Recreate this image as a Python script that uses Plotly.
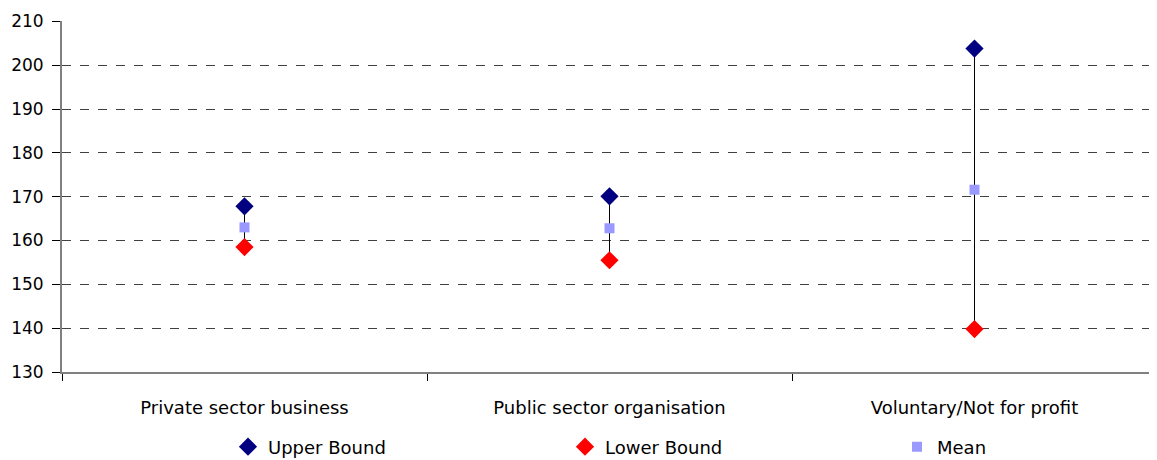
import plotly.graph_objects as go

categories = ["Private sector business", "Public sector organisation", "Voluntary/Not for profit"]
upper_bound = [167.8, 170.1, 203.8]
lower_bound = [158.5, 155.5, 139.8]
mean = [163.0, 162.8, 171.6]

# high-low connector lines, built from the bound arrays
line_x, line_y = [], []
for c, hi, lo in zip(categories, upper_bound, lower_bound):
    line_x += [c, c, None]
    line_y += [hi, lo, None]

fig = go.Figure()
fig.add_trace(go.Scatter(x=line_x, y=line_y, mode="lines", line=dict(color="black", width=1),
                         showlegend=False, hoverinfo="skip"))
fig.add_trace(go.Scatter(x=categories, y=upper_bound, mode="markers", name="Upper Bound",
                         marker=dict(symbol="diamond", size=14, color="#000080"), legend="legend"))
fig.add_trace(go.Scatter(x=categories, y=lower_bound, mode="markers", name="Lower Bound",
                         marker=dict(symbol="diamond", size=14, color="#FF0000"), legend="legend2"))
fig.add_trace(go.Scatter(x=categories, y=mean, mode="markers", name="Mean",
                         marker=dict(symbol="square", size=10, color="#9999FF"), legend="legend3"))

fig.update_xaxes(type="category", range=[-0.5, 2.5], tickson="boundaries", ticks="outside",
                 ticklen=7, tickcolor="black", showline=True, linecolor="#808080", linewidth=2,
                 showgrid=False, automargin=False, ticklabelstandoff=18,
                 tickfont=dict(size=18, color="black"))
fig.update_yaxes(range=[130, 210.1], dtick=10, ticks="outside", ticklen=8, tickcolor="black",
                 showline=True, linecolor="#808080", linewidth=2,
                 showgrid=True, gridcolor="#404040", griddash="dash", gridwidth=1,
                 zeroline=False, automargin=False, ticklabelstandoff=5,
                 tickfont=dict(size=17, color="black"))

# page body has an 8px margin, so the figure is shrunk/shifted to fill the window
W, H = 1149, 452
leg = dict(orientation="h", xref="container", yref="container", xanchor="left",
           yanchor="middle", y=13 / H, font=dict(size=18), bgcolor="rgba(0,0,0,0)")
fig.update_layout(
    width=W, height=H,
    margin=dict(l=54, r=0, t=13, b=88),
    plot_bgcolor="white", paper_bgcolor="white",
    font=dict(family="DejaVu Sans, sans-serif", color="black"),
    legend=dict(leg, x=220 / W),
    legend2=dict(leg, x=557 / W),
    legend3=dict(leg, x=889 / W),
)

fig.write_html("out.html")
